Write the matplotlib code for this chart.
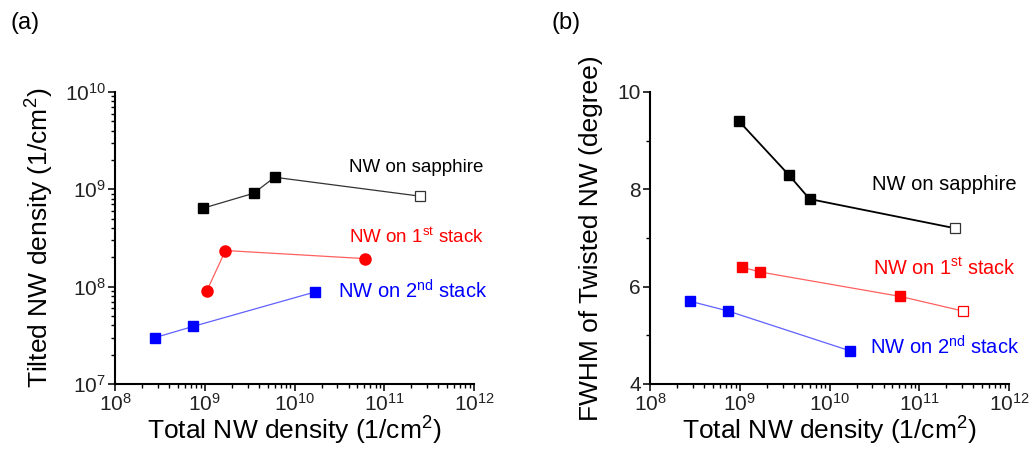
import matplotlib
matplotlib.use("Agg")
import matplotlib.pyplot as plt
from matplotlib.ticker import LogLocator, MultipleLocator, NullFormatter

plt.rcParams['font.family'] = ['Liberation Sans', 'DejaVu Sans']
plt.rcParams['mathtext.fontset'] = 'custom'
plt.rcParams['mathtext.rm'] = 'Liberation Sans'
plt.rcParams['mathtext.it'] = 'Liberation Sans:italic'
plt.rcParams['mathtext.bf'] = 'Liberation Sans:bold'

# ---- data (a): tilted NW density vs total NW density ----
a_sap_x = [9.6e8, 3.5e9, 6.0e9]
a_sap_y = [6.4e8, 9.1e8, 1.33e9]
a_sap_open_x = [2.5e11]
a_sap_open_y = [8.5e8]
a_st1_x = [1.05e9, 1.7e9, 6.1e10]
a_st1_y = [9.0e7, 2.35e8, 1.94e8]
a_st2_x = [2.8e8, 7.4e8, 1.68e10]
a_st2_y = [3.0e7, 3.9e7, 8.8e7]

# ---- data (b): FWHM of twisted NW vs total NW density ----
b_sap_x = [9.8e8, 3.5e9, 6.0e9]
b_sap_y = [9.4, 8.3, 7.8]
b_sap_open_x = [2.5e11]
b_sap_open_y = [7.2]
b_st1_x = [1.05e9, 1.7e9, 6.1e10]
b_st1_y = [6.4, 6.3, 5.8]
b_st1_open_x = [3.05e11]
b_st1_open_y = [5.5]
b_st2_x = [2.8e8, 7.4e8, 1.7e10]
b_st2_y = [5.7, 5.5, 4.68]

labels = ["NW on sapphire", "NW on 1$^{\\rm st}$ stack", "NW on 2$^{\\rm nd}$ stack"]

fig = plt.figure(figsize=(10.30, 4.51), dpi=100)
ax1 = fig.add_axes([0.1117, 0.1486, 0.3485, 0.6475])
ax2 = fig.add_axes([0.6311, 0.1486, 0.3485, 0.6475])


def style_axis(ax):
    for s in ['top', 'right']:
        ax.spines[s].set_visible(False)
    for s in ['left', 'bottom']:
        ax.spines[s].set_linewidth(1.5)
    ax.set_xscale('log')
    ax.set_xlim(1e8, 1e12)
    ax.xaxis.set_major_locator(LogLocator(base=10, numticks=10))
    ax.xaxis.set_minor_locator(LogLocator(base=10, subs=range(2, 10), numticks=20))
    ax.xaxis.set_minor_formatter(NullFormatter())
    ax.tick_params(which='major', direction='out', length=5, width=1.3,
                   labelsize=15, colors='#222222', pad=1.5)
    ax.tick_params(which='minor', direction='out', length=3, width=1.0)
    ax.set_xlabel("Total NW density (1/cm$^2$)", fontsize=19, labelpad=0)


def sq(ax, x, y, color, lc, lw=0.9, marker='s', ms=7):
    ax.plot(x, y, color=lc, lw=lw, zorder=2)
    ax.plot(x, y, ls='none', marker=marker, ms=ms, color=color, zorder=3)


# panel (a)
style_axis(ax1)
ax1.set_yscale('log')
ax1.set_ylim(1e7, 1e10)
ax1.yaxis.set_major_locator(LogLocator(base=10, numticks=10))
ax1.yaxis.set_minor_locator(LogLocator(base=10, subs=range(2, 10), numticks=20))
ax1.yaxis.set_minor_formatter(NullFormatter())
ax1.set_ylabel("Tilted NW density (1/cm$^2$)", fontsize=19)
ax1.yaxis.set_label_coords(-0.165, 0.5)

ax1.plot(a_sap_x + a_sap_open_x, a_sap_y + a_sap_open_y, color='#333333', lw=0.9, zorder=2)
ax1.plot(a_sap_x, a_sap_y, ls='none', marker='s', ms=7, color='black', zorder=3)
ax1.plot(a_sap_open_x, a_sap_open_y, ls='none', marker='s', ms=7,
         mfc='white', mec='#333333', mew=0.9, zorder=3)
sq(ax1, a_st1_x, a_st1_y, 'red', '#ff6060', marker='o', ms=8)
sq(ax1, a_st2_x, a_st2_y, 'blue', '#6060ff')

ax1.text(0.652, 0.743, labels[0], transform=ax1.transAxes, fontsize=13.5,
         color='black', va='center')
ax1.text(0.652, 0.503, labels[1], transform=ax1.transAxes, fontsize=13.5,
         color='red', va='center')
ax1.text(0.621, 0.318, labels[2], transform=ax1.transAxes, fontsize=14.5,
         color='blue', va='center')

# panel (b)
style_axis(ax2)
ax2.set_ylim(4, 10)
ax2.yaxis.set_major_locator(MultipleLocator(2))
ax2.yaxis.set_minor_locator(MultipleLocator(1))
ax2.set_ylabel("FWHM of Twisted NW (degree)", fontsize=19)
ax2.yaxis.set_label_coords(-0.13, 0.5)

ax2.plot(b_sap_x + b_sap_open_x, b_sap_y + b_sap_open_y, color='black', lw=1.3, zorder=2)
ax2.plot(b_sap_x, b_sap_y, ls='none', marker='s', ms=7, color='black', zorder=3)
ax2.plot(b_sap_open_x, b_sap_open_y, ls='none', marker='s', ms=7,
         mfc='white', mec='#333333', mew=0.9, zorder=3)
ax2.plot(b_st1_x + b_st1_open_x, b_st1_y + b_st1_open_y, color='#ff6060', lw=0.9, zorder=2)
ax2.plot(b_st1_x, b_st1_y, ls='none', marker='s', ms=7, color='red', zorder=3)
ax2.plot(b_st1_open_x, b_st1_open_y, ls='none', marker='s', ms=7,
         mfc='white', mec='red', mew=0.9, zorder=3)
sq(ax2, b_st2_x, b_st2_y, 'blue', '#6060ff')

ax2.text(0.618, 0.682, labels[0], transform=ax2.transAxes, fontsize=14.5,
         color='black', va='center')
ax2.text(0.621, 0.397, labels[1], transform=ax2.transAxes, fontsize=14.3,
         color='red', va='center')
ax2.text(0.613, 0.127, labels[2], transform=ax2.transAxes, fontsize=14.5,
         color='blue', va='center')

fig.text(0.010, 0.948, "(a)", fontsize=17, va='center')
fig.text(0.535, 0.948, "(b)", fontsize=17, va='center')

fig.savefig("out.png", dpi=100)
